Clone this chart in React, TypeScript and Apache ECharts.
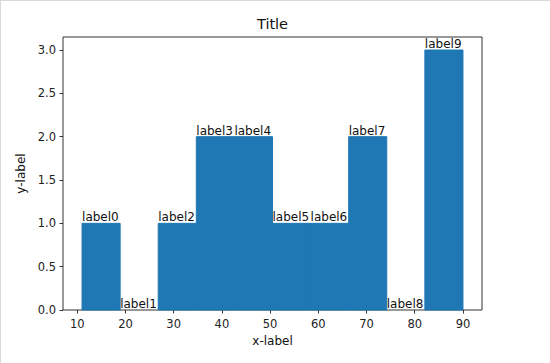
import React, { useEffect, useRef } from "react";
import * as echarts from "echarts";

const binEdges = [11, 18.9, 26.8, 34.7, 42.6, 50.5, 58.4, 66.3, 74.2, 82.1, 90];
const counts = [1, 0, 1, 2, 2, 1, 1, 2, 0, 3];
const barLabels = ["label0", "label1", "label2", "label3", "label4", "label5", "label6", "label7", "label8", "label9"];
const xTicks = [10, 20, 30, 40, 50, 60, 70, 80, 90];
const yTicks = [0, 0.5, 1.0, 1.5, 2.0, 2.5, 3.0];

const FONT = "'DejaVu Sans', sans-serif";

export default function App() {
  const ref = useRef<HTMLDivElement>(null);
  useEffect(() => {
    if (!ref.current) return;
    const chart = echarts.init(ref.current, null, { renderer: "svg" });
    const data = counts.map((c, i) => [binEdges[i], binEdges[i + 1], c, i]);
    const span = binEdges[binEdges.length - 1] - binEdges[0];
    const xMin = binEdges[0] - 0.05 * span;
    const xMax = binEdges[binEdges.length - 1] + 0.05 * span;
    const yMax = Math.max(...counts) * 1.05;
    chart.setOption({
      animation: false,
      backgroundColor: "#ffffff",
      title: {
        text: "Title",
        left: 272.5,
        textAlign: "center",
        top: 16,
        padding: 0,
        textStyle: { fontFamily: FONT, fontSize: 14.5, fontWeight: "normal", color: "#111" },
      },
      graphic: [
        { type: "line", shape: { x1: 0, y1: 0.5, x2: 550, y2: 0.5 }, style: { stroke: "#d9d9d9", lineWidth: 1 } },
        { type: "line", shape: { x1: 0.5, y1: 0, x2: 0.5, y2: 363 }, style: { stroke: "#d9d9d9", lineWidth: 1 } },
      ],
      grid: {
        left: 63,
        top: 37,
        right: 68,
        bottom: 53,
        show: true,
        borderColor: "#333",
        borderWidth: 1,
        backgroundColor: "transparent",
      },
      xAxis: {
        type: "value",
        min: xMin,
        max: xMax,
        name: "x-label",
        nameLocation: "middle",
        nameGap: 24,
        nameTextStyle: { fontFamily: FONT, fontSize: 12, color: "#111" },
        axisLine: { show: false },
        splitLine: { show: false },
        axisTick: { show: true, length: 3.5, lineStyle: { color: "#333", width: 1 }, customValues: xTicks },
        axisLabel: {
          customValues: xTicks,
          fontFamily: FONT,
          fontSize: 11.5,
          color: "#222",
          margin: 8,
        },
      },
      yAxis: {
        type: "value",
        min: 0,
        max: yMax,
        name: "y-label",
        nameLocation: "middle",
        nameGap: 36,
        nameRotate: 90,
        nameTextStyle: { fontFamily: FONT, fontSize: 12, color: "#111" },
        axisLine: { show: false },
        splitLine: { show: false },
        axisTick: { show: true, length: 3.5, lineStyle: { color: "#333", width: 1 }, customValues: yTicks },
        axisLabel: {
          customValues: yTicks,
          fontFamily: FONT,
          fontSize: 11.5,
          color: "#222",
          margin: 7,
          formatter: (v: number) => v.toFixed(1),
        },
      },
      series: [
        {
          type: "custom",
          clip: false,
          data,
          encode: { x: [0, 1], y: 2 },
          renderItem: (params: any, api: any) => {
            const x0 = api.value(0);
            const x1 = api.value(1);
            const c = api.value(2);
            const idx = api.value(3);
            const p0 = api.coord([x0, 0]);
            const p1 = api.coord([x1, c]);
            return {
              type: "group",
              children: [
                {
                  type: "rect",
                  shape: { x: p0[0], y: p1[1], width: p1[0] - p0[0], height: p0[1] - p1[1] },
                  style: { fill: "#1f77b4", stroke: "#1f77b4", lineWidth: c > 0 ? 1 : 0 },
                },
                {
                  type: "text",
                  x: p0[0],
                  y: p1[1],
                  style: {
                    text: barLabels[idx],
                    fill: "#111",
                    fontFamily: FONT,
                    fontSize: 12,
                    align: "left",
                    verticalAlign: "bottom",
                  },
                },
              ],
            };
          },
        },
      ],
    });
    return () => chart.dispose();
  }, []);
  return <div ref={ref} style={{ position: "absolute", left: 0, top: 0, width: 550, height: 363 }} />;
}
